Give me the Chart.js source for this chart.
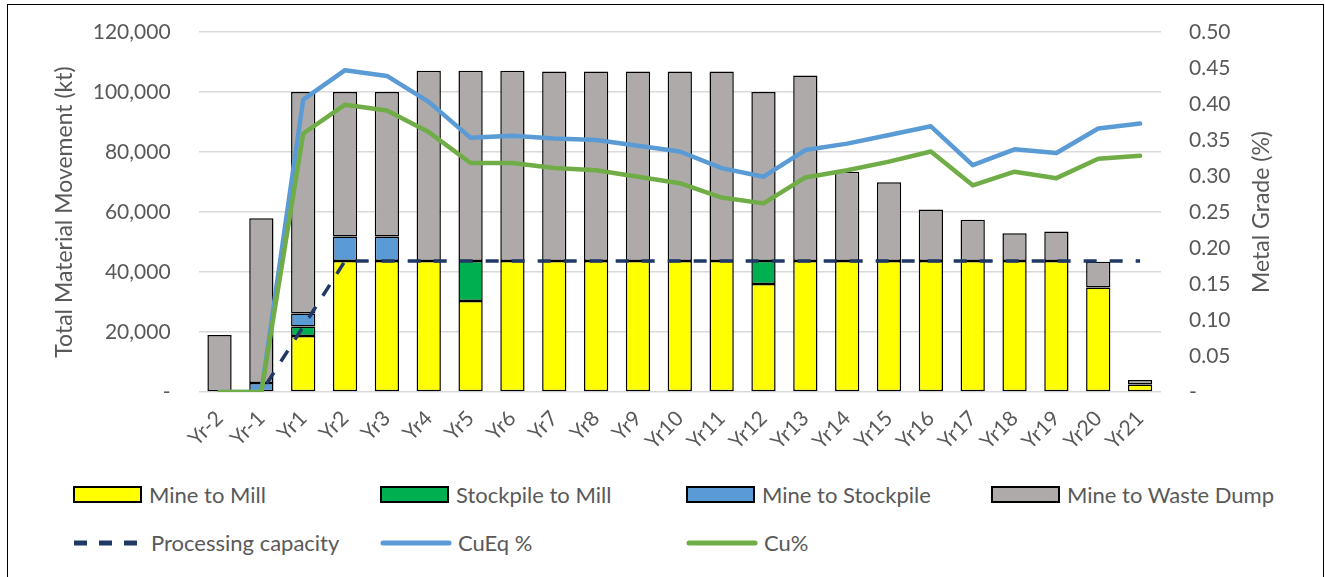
<!DOCTYPE html>
<html>
<head>
<meta charset="utf-8">
<script src="https://cdn.jsdelivr.net/npm/chart.js@4.4.1/dist/chart.umd.min.js"></script>
<style>
  body { margin: 0; background: #fff; width: 1325px; height: 577px; overflow: hidden; position: relative; font-family: Lato, sans-serif; }
  #frame { position: absolute; left: 7px; top: 4px; width: 1317px; height: 600px; border: 1.5px solid #000; box-sizing: border-box; }
  #wrap { position: absolute; left: 0; top: 0; width: 1325px; height: 460px; }
  .leg { position: absolute; display: flex; align-items: center; font-size: 22px; color: #595959; white-space: nowrap; }
  .box { width: 65px; height: 13px; border: 2px solid #000; margin-right: 7px; }
  .leg svg { margin-right: 6px; }
</style>
</head>
<body>
<div id="frame"></div>
<div id="wrap"><canvas id="myChart" width="1325" height="460"></canvas></div>
<div id="legend"></div>
<script>
const years = ["Yr-2", "Yr-1", "Yr1", "Yr2", "Yr3", "Yr4", "Yr5", "Yr6", "Yr7", "Yr8", "Yr9", "Yr10",
  "Yr11", "Yr12", "Yr13", "Yr14", "Yr15", "Yr16", "Yr17", "Yr18", "Yr19", "Yr20", "Yr21"];

// kt
const mineToMill = [0, 0, 18700, 43700, 43700, 43700, 30300, 43700, 43700, 43700, 43700, 43700,
  43700, 36000, 43700, 43700, 43700, 43700, 43700, 43700, 43700, 34800, 2500];
const stockpileToMill = [0, 0, 3100, 0, 0, 0, 13400, 0, 0, 0, 0, 0,
  0, 7700, 0, 0, 0, 0, 0, 0, 0, 0, 0];
const mineToStockpile = [0, 3000, 4400, 8100, 8100, 0, 0, 0, 0, 0, 0, 0,
  0, 0, 0, 0, 0, 0, 0, 0, 0, 0, 0];
const mineToWaste = [19000, 54900, 73800, 48200, 48200, 63400, 63400, 63400, 63100, 63100, 63100, 63100,
  63100, 56300, 61800, 29700, 26200, 17100, 13700, 9200, 9800, 8600, 1500];
const processingCapacity = [0, 0, 21800, 43700, 43700, 43700, 43700, 43700, 43700, 43700, 43700, 43700,
  43700, 43700, 43700, 43700, 43700, 43700, 43700, 43700, 43700, 43700, 43700];

// grade %
const cuEq = [0, 0, 0.406, 0.447, 0.439, 0.403, 0.353, 0.356, 0.352, 0.350, 0.342, 0.334,
  0.311, 0.299, 0.336, 0.345, 0.357, 0.369, 0.315, 0.337, 0.332, 0.366, 0.373];
const cu = [0, 0, 0.359, 0.399, 0.391, 0.361, 0.318, 0.318, 0.311, 0.308, 0.299, 0.290,
  0.270, 0.262, 0.298, 0.308, 0.320, 0.334, 0.287, 0.306, 0.297, 0.324, 0.328];

const leftTicks = { max: 120000, step: 20000 };
const rightTicks = { max: 0.5, step: 0.05 };
const leftTitle = "Total Material Movement (kt)";
const rightTitle = "Metal Grade (%)";

const grey = "#595959";
const font = { family: "Lato", size: 21 };

const bar = (label, data, color) => ({
  label, data: data.map(v => v || null), backgroundColor: color,
  borderColor: "#000", borderWidth: 1.5, borderSkipped: false,
  barPercentage: 0.58, categoryPercentage: 1, order: 10, yAxisID: "y"
});

const datasets = [
  bar("Mine to Mill", mineToMill, "#FFFF00"),
  bar("Stockpile to Mill", stockpileToMill, "#00B050"),
  bar("Mine to Stockpile", mineToStockpile, "#5B9BD5"),
  bar("Mine to Waste Dump", mineToWaste, "#AEAAAA"),
  { type: "line", label: "Processing capacity", data: processingCapacity, yAxisID: "y", stack: "cap",
    borderColor: "#1F3864", borderWidth: 3.5, borderDash: [13, 13], pointRadius: 0, order: 3, tension: 0 },
  { type: "line", label: "CuEq %", data: cuEq, yAxisID: "y1",
    borderColor: "#5B9BD5", borderWidth: 4.5, pointRadius: 0, order: 2, tension: 0,
    borderJoinStyle: "round", borderCapStyle: "round" },
  { type: "line", label: "Cu%", data: cu, yAxisID: "y1",
    borderColor: "#70AD47", borderWidth: 4.5, pointRadius: 0, order: 1, tension: 0,
    borderJoinStyle: "round", borderCapStyle: "round" }
];

const axisTitles = {
  id: "axisTitles",
  afterDraw(chart) {
    const { ctx, chartArea } = chart;
    const midY = (chartArea.top + chartArea.bottom) / 2;
    ctx.save();
    ctx.font = "23px Lato";
    ctx.fillStyle = grey;
    ctx.textAlign = "center";
    ctx.textBaseline = "middle";
    [[65, leftTitle], [1262, rightTitle]].forEach(([x, t]) => {
      ctx.save();
      ctx.translate(x, midY);
      ctx.rotate(-Math.PI / 2);
      ctx.fillText(t, 0, 0);
      ctx.restore();
    });
    ctx.restore();
  }
};

// invisible tick marks push the labels out without padding the top of the plot
const hiddenTicks = { drawTicks: true, tickLength: 25, tickColor: "rgba(0,0,0,0)" };

new Chart(document.getElementById("myChart"), {
  type: "bar",
  data: { labels: years, datasets },
  plugins: [axisTitles],
  options: {
    responsive: false,
    animation: false,
    layout: { padding: { top: 32, left: 0, right: 0, bottom: 0 } },
    plugins: { legend: { display: false }, tooltip: { enabled: false } },
    scales: {
      x: {
        stacked: true,
        grid: { display: false },
        border: { display: false },
        ticks: { color: grey, font, maxRotation: 45, minRotation: 45, autoSkip: false, padding: 6 },
        afterFit: s => { s.height = 68; }
      },
      y: {
        stacked: true, position: "left", min: 0, max: leftTicks.max,
        grid: { color: "#D9D9D9", lineWidth: 1.5, ...hiddenTicks },
        border: { display: false },
        ticks: { stepSize: leftTicks.step, color: grey, font, padding: 3,
          callback: v => v === 0 ? "-" : v.toLocaleString("en-US") },
        afterFit: s => { s.width = 198.6; }
      },
      y1: {
        position: "right", min: 0, max: rightTicks.max,
        grid: { drawOnChartArea: false, ...hiddenTicks },
        border: { display: false },
        ticks: { stepSize: rightTicks.step, color: grey, font, padding: 3,
          callback: v => v === 0 ? "-" : v.toFixed(2) },
        afterFit: s => { s.width = 164; }
      }
    }
  }
});

// legend grid: 4 columns, 2 rows
const legCols = [73, 380, 686, 991];
const legRows = [495, 543];
const legend = document.getElementById("legend");
datasets.forEach((d, i) => {
  const el = document.createElement("div");
  el.className = "leg";
  el.style.left = legCols[i % 4] + "px";
  el.style.top = (legRows[Math.floor(i / 4)] - 14) + "px";
  let sample;
  if (d.type === "line") {
    const dash = d.borderDash ? `stroke-dasharray="13 12"` : "";
    const cap = d.borderDash ? "butt" : "round";
    sample = `<svg width="72" height="10"><line x1="${d.borderDash ? 1 : 3}" y1="5" x2="69" y2="5" stroke="${d.borderColor}" stroke-width="5" stroke-linecap="${cap}" ${dash}/></svg>`;
  } else {
    sample = `<div class="box" style="background:${d.backgroundColor}"></div>`;
  }
  el.innerHTML = sample + `<span>${d.label}</span>`;
  legend.appendChild(el);
});
</script>
</body>
</html>
